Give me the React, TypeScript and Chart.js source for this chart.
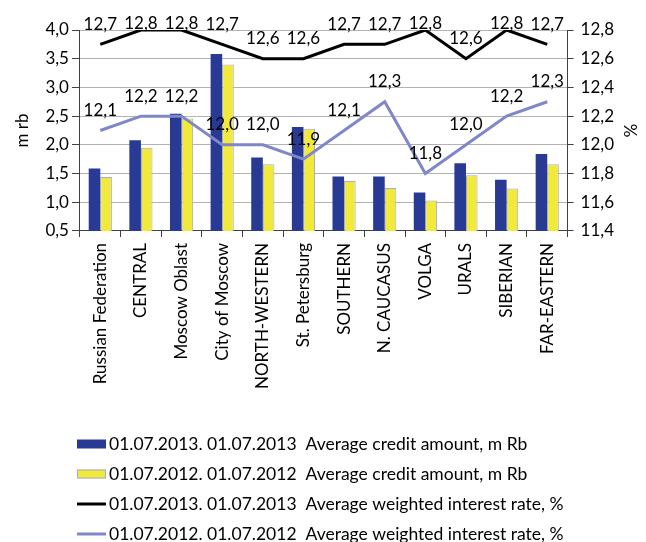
import React, { useEffect, useRef } from "react";
import { Chart, registerables } from "chart.js";

Chart.register(...registerables);

const categories = [
  "Russian Federation",
  "CENTRAL",
  "Moscow Oblast",
  "City of Moscow",
  "NORTH-WESTERN",
  "St. Petersburg",
  "SOUTHERN",
  "N. CAUCASUS",
  "VOLGA",
  "URALS",
  "SIBERIAN",
  "FAR-EASTERN",
];

const credit2013 = [1.59, 2.08, 2.54, 3.58, 1.78, 2.31, 1.45, 1.45, 1.17, 1.68, 1.39, 1.84];
const credit2012 = [1.44, 1.95, 2.46, 3.4, 1.66, 2.28, 1.37, 1.25, 1.03, 1.47, 1.24, 1.66];
const rate2013 = [12.7, 12.8, 12.8, 12.7, 12.6, 12.6, 12.7, 12.7, 12.8, 12.6, 12.8, 12.7];
const rate2012 = [12.1, 12.2, 12.2, 12.0, 12.0, 11.9, 12.1, 12.3, 11.8, 12.0, 12.2, 12.3];

const leftMin = 0.5;
const leftMax = 4.0;
const leftStep = 0.5;
const rightMin = 11.4;
const rightMax = 12.8;
const rightStep = 0.2;

const seriesLabels = [
  "01.07.2013. 01.07.2013  Average credit amount, m Rb",
  "01.07.2012. 01.07.2012  Average credit amount, m Rb",
  "01.07.2013. 01.07.2013  Average weighted interest rate, %",
  "01.07.2012. 01.07.2012  Average weighted interest rate, %",
];

const BLUE = "#283A94";
const YELLOW = "#F2EA3A";
const YELLOW_BORDER = "#A6A8D6";
const BLACK = "#000000";
const PURPLE = "#7F87C8";
const FONT = "Lato";
const FS = 17;
const LEGEND_FS = 17.5;

const fmt = (v: number) => Number(v).toFixed(1).replace(".", ",");

const lineLabelsPlugin = {
  id: "lineLabels",
  afterDatasetsDraw(chart: any) {
    const ctx = chart.ctx;
    const top = chart.chartArea.top;
    ctx.save();
    ctx.font = `${FS}px ${FONT}`;
    ctx.fillStyle = "#000";
    ctx.textAlign = "center";
    ctx.textBaseline = "middle";
    chart.data.datasets.forEach((ds: any, i: number) => {
      if (ds.type !== "line") return;
      const meta = chart.getDatasetMeta(i);
      meta.data.forEach((pt: any, j: number) => {
        const y = Math.max(pt.y - 20, top - 6);
        ctx.fillText(fmt(ds.data[j]), pt.x, y);
      });
    });
    ctx.restore();
  },
};

const customLegendPlugin = {
  id: "customLegend",
  afterDraw(chart: any) {
    const ctx = chart.ctx;
    ctx.save();
    ctx.font = `${LEGEND_FS}px ${FONT}`;
    ctx.textBaseline = "middle";
    ctx.textAlign = "left";
    const x0 = 69;
    const w = 29;
    const rowY = [436, 466, 496, 526];
    chart.data.datasets.forEach((ds: any, i: number) => {
      const y = rowY[i];
      if (ds.type === "bar") {
        ctx.fillStyle = ds.backgroundColor;
        ctx.fillRect(x0, y - 4.5, w, 9);
        if (ds.borderWidth) {
          ctx.strokeStyle = ds.borderColor;
          ctx.lineWidth = 1;
          ctx.strokeRect(x0 + 0.5, y - 4, w - 1, 8);
        }
      } else {
        ctx.strokeStyle = ds.borderColor;
        ctx.lineWidth = 3;
        ctx.beginPath();
        ctx.moveTo(x0, y);
        ctx.lineTo(x0 + w, y);
        ctx.stroke();
      }
      ctx.fillStyle = "#000";
      ctx.fillText(ds.label, x0 + w + 3, y);
    });
    ctx.restore();
  },
};

export default function App() {
  const ref = useRef<HTMLCanvasElement | null>(null);

  useEffect(() => {
    if (!ref.current) return;
    const chart = new Chart(ref.current, {
      type: "bar",
      data: {
        labels: categories,
        datasets: [
          {
            type: "bar",
            label: seriesLabels[0],
            data: credit2013,
            backgroundColor: BLUE,
            borderColor: BLUE,
            borderWidth: 0,
            yAxisID: "y",
            order: 2,
          },
          {
            type: "bar",
            label: seriesLabels[1],
            data: credit2012,
            backgroundColor: YELLOW,
            borderColor: YELLOW_BORDER,
            borderWidth: 1,
            yAxisID: "y",
            order: 2,
          },
          {
            type: "line",
            label: seriesLabels[2],
            data: rate2013,
            borderColor: BLACK,
            backgroundColor: BLACK,
            borderWidth: 3,
            pointRadius: 0,
            tension: 0,
            yAxisID: "y1",
            order: 1,
          },
          {
            type: "line",
            label: seriesLabels[3],
            data: rate2012,
            borderColor: PURPLE,
            backgroundColor: PURPLE,
            borderWidth: 3,
            pointRadius: 0,
            tension: 0,
            yAxisID: "y1",
            order: 1,
          },
        ] as any,
      },
      options: {
        animation: false,
        responsive: true,
        maintainAspectRatio: false,
        datasets: {
          bar: { categoryPercentage: 0.57, barPercentage: 1.0 },
        } as any,
        layout: { padding: { top: 22, left: 2, right: 0, bottom: 173 } },
        font: { family: FONT, size: FS },
        plugins: {
          legend: { display: false },
          tooltip: { enabled: false },
        },
        scales: {
          x: {
            offset: true,
            grid: {
              offset: true,
              drawOnChartArea: false,
              drawTicks: true,
              tickLength: 6,
              tickColor: "#404040",
            },
            border: { color: "#404040", width: 1 },
            ticks: {
              minRotation: 90,
              maxRotation: 90,
              autoSkip: false,
              color: "#000",
              padding: 6,
              font: { family: FONT, size: FS },
            },
          },
          y: {
            position: "left",
            min: leftMin,
            max: leftMax,
            ticks: {
              stepSize: leftStep,
              color: "#000",
              padding: 3,
              font: { family: FONT, size: FS },
              callback: (v: any) => fmt(v),
            },
            grid: {
              color: "#B3B3B3",
              tickColor: "#404040",
              tickLength: 8,
              lineWidth: 1,
            },
            border: { color: "#404040", width: 1 },
            title: {
              display: true,
              text: "m rb",
              color: "#000",
              padding: { top: 2, bottom: 10 },
              font: { family: FONT, size: FS },
            },
          },
          y1: {
            position: "right",
            min: rightMin,
            max: rightMax,
            ticks: {
              stepSize: rightStep,
              color: "#000",
              padding: 7,
              font: { family: FONT, size: FS },
              callback: (v: any) => fmt(v),
            },
            grid: {
              drawOnChartArea: false,
              tickColor: "#404040",
              tickLength: 6,
            },
            border: { color: "#404040", width: 1 },
            title: {
              display: true,
              text: "%",
              color: "#000",
              padding: 0,
              font: { family: FONT, size: FS, lineHeight: 1.0 },
            },
          },
        },
      },
      plugins: [lineLabelsPlugin, customLegendPlugin],
    });
    return () => chart.destroy();
  }, []);

  return (
    <div style={{ width: 630, height: 560, position: "relative" }}>
      <canvas ref={ref} />
    </div>
  );
}
